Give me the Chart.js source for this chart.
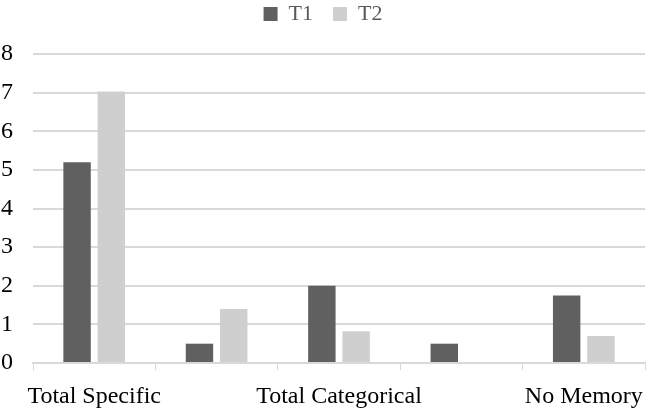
<!DOCTYPE html>
<html>
<head>
<meta charset="utf-8">
<script src="https://cdn.jsdelivr.net/npm/chart.js@4/dist/chart.umd.min.js"></script>
<style>
html,body{margin:0;padding:0;background:#fff;}
#wrap{width:646px;height:413px;position:relative;}
</style>
</head>
<body>
<div id="wrap"><canvas id="c" width="646" height="413"></canvas></div>
<script>
const categories = ["Total Specific", "", "Total Categorical", "", "No Memory"];
const seriesNames = ["T1", "T2"];
const t1Values = [5.2, 0.5, 2.0, 0.5, 1.75];
const t2Values = [7.03, 1.4, 0.82, 0, 0.7];
const yTicks = [0, 1, 2, 3, 4, 5, 6, 7, 8];

Chart.defaults.font.family = "'Liberation Serif', 'Times New Roman', serif";
Chart.defaults.color = "#000";

const legendGap = {
  id: 'legendGap',
  beforeInit(chart) {
    const orig = chart.legend.fit;
    chart.legend.fit = function () {
      orig.bind(chart.legend)();
      this.height += 19;
    };
  }
};

new Chart(document.getElementById('c'), {
  type: 'bar',
  data: {
    labels: categories,
    datasets: [
      { label: seriesNames[0], data: t1Values, backgroundColor: '#606060', barPercentage: 0.8, categoryPercentage: 0.56 },
      { label: seriesNames[1], data: t2Values, backgroundColor: '#cfcfcf', barPercentage: 0.8, categoryPercentage: 0.56 }
    ]
  },
  plugins: [legendGap],
  options: {
    responsive: false,
    animation: false,
    devicePixelRatio: 1,
    layout: { padding: { left: 1, right: 1, top: -17, bottom: -11 } },
    plugins: {
      legend: {
        position: 'top',
        labels: { boxWidth: 14, boxHeight: 14, font: { size: 22 }, color: '#595959', padding: 20 }
      },
      tooltip: { enabled: false }
    },
    scales: {
      x: {
        grid: { drawOnChartArea: false, drawTicks: true, tickLength: 7, color: '#d9d9d9', offset: true },
        border: { display: true, color: '#d9d9d9', width: 2 },
        ticks: { autoSkip: false, maxRotation: 0, font: { size: 24, lineHeight: 2 }, color: '#000', padding: 3 }
      },
      y: {
        min: 0, max: 8,
        afterBuildTicks: (axis) => { axis.ticks = yTicks.map(v => ({ value: v })); },
        grid: { color: '#d9d9d9', lineWidth: 2, drawTicks: false },
        border: { display: false },
        ticks: { font: { size: 24 }, color: '#000', padding: 10, crossAlign: 'far' }
      }
    }
  }
});
</script>
</body>
</html>
